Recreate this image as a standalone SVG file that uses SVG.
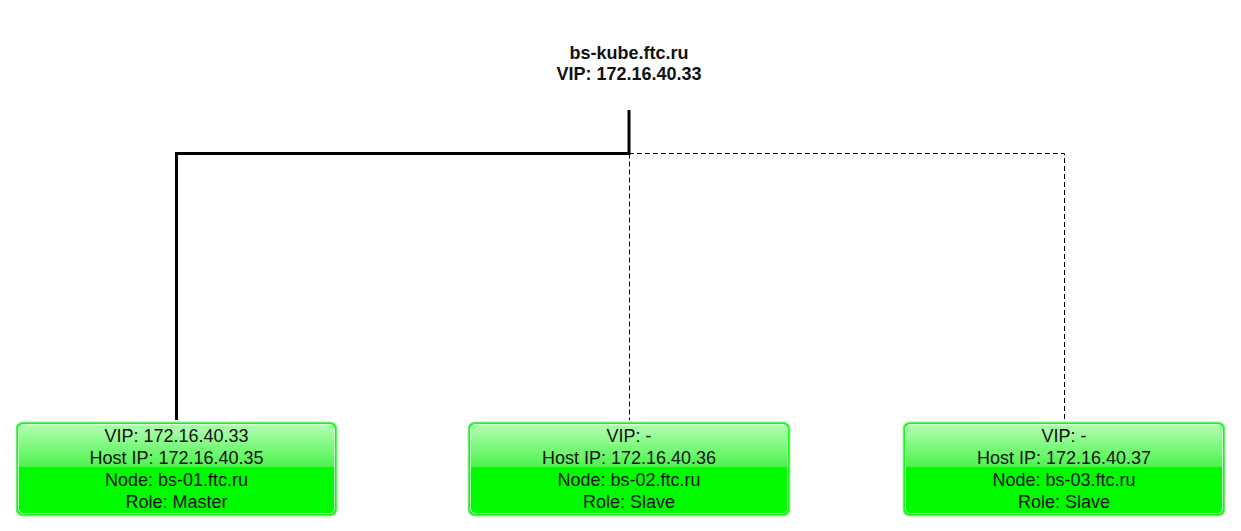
<svg xmlns="http://www.w3.org/2000/svg" width="1241" height="531" viewBox="0 0 1241 531">
<style>
.t{font-family:"Liberation Sans",Arial,sans-serif;font-size:18px;fill:#111;text-anchor:middle}
.h{font-family:"Liberation Sans",Arial,sans-serif;font-size:18px;font-weight:bold;fill:#111;text-anchor:middle}
.box{fill:#00fa00;stroke:#5ef05e;stroke-width:1.5}
.gl{fill:url(#g)}
.in{fill:none;stroke:#c8ffc8;stroke-width:1}
.solid{fill:none;stroke:#000;stroke-width:3}
.dash{fill:none;stroke:#000;stroke-width:1;stroke-dasharray:5,3}
</style>
<defs>
<linearGradient id="g" x1="0" y1="0" x2="0" y2="1">
<stop offset="0" stop-color="#b4ffb4"/>
<stop offset="1" stop-color="#4cf34c"/>
</linearGradient>
</defs>
<rect width="1241" height="531" fill="#fff"/>
<g id="vip">
<text class="h" x="629" y="59">bs-kube.ftc.ru</text>
<text class="h" x="629" y="80">VIP: 172.16.40.33</text>
</g>
<g id="connectors">
<path class="solid" d="M629,110 V153.5 H176.5 V420"/>
<path class="dash" d="M629,153.5 H1064.5 V420"/>
<path class="dash" d="M629.5,153.5 V420"/>
</g>
<g id="n1">
<rect class="box" x="16.5" y="422.5" width="320" height="93" rx="6"/>
<path class="gl" d="M18.5,467 V429 a5,5 0 0 1 5,-5 H329.5 a5,5 0 0 1 5,5 V467 Z"/>
<rect class="in" x="18.5" y="424.5" width="316" height="89" rx="5"/>
<text class="t" x="176.5" y="442">VIP: 172.16.40.33</text>
<text class="t" x="176.5" y="464">Host IP: 172.16.40.35</text>
<text class="t" x="176.5" y="486">Node: bs-01.ftc.ru</text>
<text class="t" x="176.5" y="508">Role: Master</text>
</g>
<g id="n2">
<rect class="box" x="468.5" y="422.5" width="321" height="93" rx="6"/>
<path class="gl" d="M470.5,467 V429 a5,5 0 0 1 5,-5 H782.5 a5,5 0 0 1 5,5 V467 Z"/>
<rect class="in" x="470.5" y="424.5" width="317" height="89" rx="5"/>
<text class="t" x="629" y="442">VIP: -</text>
<text class="t" x="629" y="464">Host IP: 172.16.40.36</text>
<text class="t" x="629" y="486">Node: bs-02.ftc.ru</text>
<text class="t" x="629" y="508">Role: Slave</text>
</g>
<g id="n3">
<rect class="box" x="903.5" y="422.5" width="321" height="93" rx="6"/>
<path class="gl" d="M905.5,467 V429 a5,5 0 0 1 5,-5 H1217.5 a5,5 0 0 1 5,5 V467 Z"/>
<rect class="in" x="905.5" y="424.5" width="317" height="89" rx="5"/>
<text class="t" x="1064" y="442">VIP: -</text>
<text class="t" x="1064" y="464">Host IP: 172.16.40.37</text>
<text class="t" x="1064" y="486">Node: bs-03.ftc.ru</text>
<text class="t" x="1064" y="508">Role: Slave</text>
</g>
</svg>
